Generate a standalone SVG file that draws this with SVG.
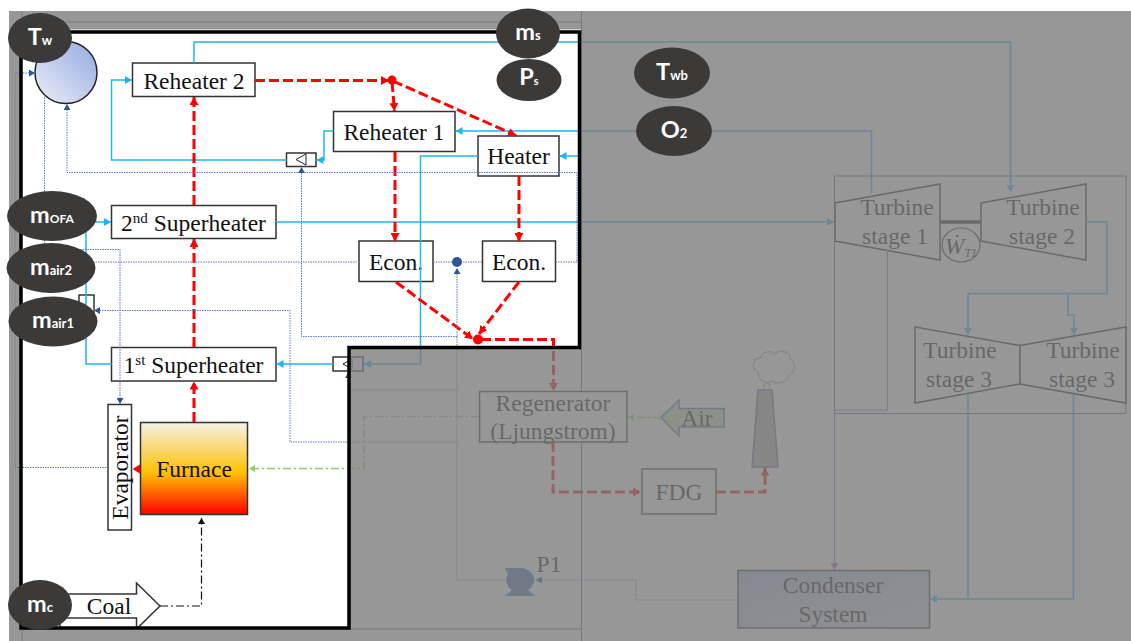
<svg xmlns="http://www.w3.org/2000/svg" width="1131" height="641" viewBox="0 0 1131 641">
<style>
text{font-family:"Liberation Serif","Times New Roman",serif;font-size:23.5px;fill:#111;text-anchor:middle}
.box{fill:#fff;stroke:#333;stroke-width:1.5}
.tb{fill:#fff;stroke:#222;stroke-width:1.5}
.c{fill:none;stroke:#1fb4f2;stroke-width:1.5}
.r{fill:none;stroke:#f00;stroke-width:3;stroke-dasharray:10 4}
.b{fill:none;stroke:#5a7bbf;stroke-width:1;stroke-dasharray:1.5 1}
.g{fill:none;stroke:#8fd06a;stroke-width:1.5;stroke-dasharray:8 3 2 3}
.k{fill:none;stroke:#111;stroke-width:1.2;stroke-dasharray:8 3 2 3}
.p{fill:none;stroke:#a060d8;stroke-width:1.2}
.e{fill:#3b3a39}
.l{font-family:Lato,"Open Sans",sans-serif;font-weight:700;fill:#fff}
.o{fill:none;stroke:#4a6a96;stroke-width:1}
</style>
<defs>
<linearGradient id="gDrum" x1="0" y1="1" x2="1" y2="0"><stop offset="0" stop-color="#eceef6"/><stop offset="1" stop-color="#93aae4"/></linearGradient>
<linearGradient id="gFurn" x1="0" y1="0" x2="0" y2="1"><stop offset="0" stop-color="#f5f2ea"/><stop offset=".55" stop-color="#ffc000"/><stop offset="1" stop-color="#f00"/></linearGradient>
<linearGradient id="gCond" x1="0" y1="0" x2="1" y2="1"><stop offset="0" stop-color="#a9b8e2"/><stop offset="1" stop-color="#d5dcf0"/></linearGradient>
<marker id="mc" markerUnits="userSpaceOnUse" markerWidth="8" markerHeight="8" refX="7" refY="4" orient="auto"><path d="M0 0L7 4L0 8Z" fill="#1fb4f2"/></marker>
<marker id="mr" markerUnits="userSpaceOnUse" markerWidth="9" markerHeight="9" refX="8" refY="4.5" orient="auto"><path d="M0 0L8 4.5L0 9Z" fill="#f00"/></marker>
<marker id="mb" markerUnits="userSpaceOnUse" markerWidth="7" markerHeight="7" refX="6" refY="3.5" orient="auto"><path d="M0 0L6 3.5L0 7Z" fill="#2f5597"/></marker>
<marker id="mg" markerUnits="userSpaceOnUse" markerWidth="7" markerHeight="7" refX="6" refY="3.5" orient="auto"><path d="M0 0L6 3.5L0 7Z" fill="#8fd06a"/></marker>
<marker id="mk" markerUnits="userSpaceOnUse" markerWidth="7" markerHeight="7" refX="6" refY="3.5" orient="auto"><path d="M0 0L6 3.5L0 7Z" fill="#111"/></marker>
<marker id="mp" markerUnits="userSpaceOnUse" markerWidth="8" markerHeight="8" refX="7" refY="4" orient="auto"><path d="M0 0L7 4L0 8Z" fill="#a060d8"/></marker>
</defs>
<rect width="1131" height="641" fill="#fff"/>

<g id="frames">
<path class="o" d="M22 11V29M22 630V641M22 22H581.500M581.500 11V641M350 629H581.500M834.500 176H1126V413.500H834.500Z"/>
</g>

<g id="nodes">
<g id="drum"><circle cx="66" cy="72.500" r="31" fill="url(#gDrum)" stroke="#222" stroke-width="1.500"/></g>
<g id="reheater2"><rect class="box" x="132.500" y="63" width="122.500" height="33.500"/><text x="194" y="89">Reheater 2</text></g>
<g id="reheater1"><rect class="box" x="333.500" y="111.500" width="121.500" height="40"/><text x="394" y="139.500">Reheater 1</text></g>
<g id="heater"><rect class="box" x="478" y="136" width="81" height="40"/><text x="518.500" y="164">Heater</text></g>
<g id="sh2"><rect class="box" x="111.500" y="205.500" width="164.500" height="33"/><text x="193.500" y="231">2<tspan font-size="15" dy="-8">nd</tspan><tspan dy="8"> Superheater</tspan></text></g>
<g id="sh1"><rect class="box" x="111.500" y="347.500" width="164.500" height="33.500"/><text x="193.500" y="372.500">1<tspan font-size="15" dy="-8">st</tspan><tspan dy="8"> Superheater</tspan></text></g>
<g id="econ1"><rect class="box" x="359" y="241" width="74" height="40.500"/><text x="396" y="270">Econ.</text></g>
<g id="econ2"><rect class="box" x="482.500" y="241" width="73" height="40.500"/><text x="519" y="270">Econ.</text></g>
<g id="furnace"><rect x="140.500" y="422.500" width="107" height="92" fill="url(#gFurn)" stroke="#333" stroke-width="1.500"/><text x="194" y="477">Furnace</text></g>
<g id="evaporator"><rect class="box" x="108" y="404.500" width="23.500" height="125.500"/><text transform="translate(128 467.500) rotate(-90)">Evaporator</text></g>
<g id="coal"><path d="M60 594H136.500V583L160 606L137.500 628H60Z" fill="#fff" stroke="#333" stroke-width="1.500"/><path d="M60 618H136.500V628" fill="none" stroke="#333" stroke-width="1.500"/><text x="109" y="614">Coal</text></g>
<g id="valve1"><rect class="box" x="286.500" y="153" width="29.500" height="13.500"/><path d="M296 159.500L306 154V165Z" fill="#fff" stroke="#222"/></g>
<g id="valve2"><rect class="box" x="333" y="357" width="30" height="14"/><path d="M343 364L352 359V369Z" fill="#fff" stroke="#222"/></g>
<g id="valve3"><rect class="box" x="79" y="295" width="15" height="30"/></g>
<g id="regenerator"><rect class="box" x="479.500" y="391.500" width="147.500" height="50.500"/><text x="553" y="411">Regenerator</text><text x="553" y="439">(Ljungstrom)</text></g>
<g id="fdg"><rect class="box" x="642" y="469" width="74" height="45"/><text x="679" y="500">FDG</text></g>
<g id="air"><path d="M661 417.500L679 400V408.500H724V427H679V436Z" fill="#c5e0b4" stroke="#4a6fa5" stroke-width="1.500"/><text x="697" y="426">Air</text></g>
<g id="stack"><path d="M758 390H772L778 467H752Z" fill="#a8a8a8" stroke="#4a6fa5" stroke-width="1.500"/><path d="M764 390V384H770V390M758 372C750 368 753 357 761 358C762 351 772 350 775 354C780 349 791 351 790 359C796 362 796 372 789 375C788 382 777 385 772 381C766 385 757 380 758 372Z" fill="none" stroke="#aaa" stroke-width="1.200"/></g>
<g id="pump"><path d="M505 568H520A14 12 0 0 1 528 590L535 596H505L512 590A13 12 0 0 1 508 574Z" fill="#3f69ac"/><text x="549" y="572" font-size="20">P1</text></g>
<g id="condenser"><rect x="738" y="570.500" width="191.500" height="57.500" fill="url(#gCond)" stroke="#333" stroke-width="1.500"/><text x="833" y="593">Condenser</text><text x="833" y="622">System</text></g>
<g id="turbine1"><path class="tb" d="M835 203L940 184V260L835 241Z"/><text x="897" y="215">Turbine</text><text x="895" y="244">stage 1</text></g>
<g id="turbine2"><path class="tb" d="M981 203L1086 184V260L981 241Z"/><text x="1043" y="215">Turbine</text><text x="1042" y="244">stage 2</text></g>
<g id="turbine3a"><path class="tb" d="M915 327L1020 345.500V384L915 403Z"/><text x="960" y="358">Turbine</text><text x="959" y="387">stage 3</text></g>
<g id="turbine3b"><path class="tb" d="M1020 345.500L1126 327V403L1020 384Z"/><text x="1083" y="358">Turbine</text><text x="1082" y="387">stage 3</text></g>
<g id="work"><path d="M940 222H981" stroke="#222" stroke-width="3.500"/><ellipse cx="961" cy="245" rx="19" ry="17" fill="none" stroke="#222" stroke-width="1.200"/><text x="961" y="254" font-style="italic" font-size="20">Ẇ<tspan font-size="12" dy="3">T1</tspan></text></g>
</g>

<g id="connectors">
<path class="c" d="M194 63V42H1010.500V192" marker-end="url(#mc)"/>
<path class="c" d="M286.500 160H111.500V80H132" marker-end="url(#mc)"/>
<path class="c" d="M333.500 131H324V160H316.500" marker-end="url(#mc)"/>
<path class="c" d="M871.500 193V131H455.500" marker-end="url(#mc)"/>
<path class="c" d="M581.500 131V156H559.500" marker-end="url(#mc)"/>
<path class="c" d="M478 156H420.500V364H364" marker-end="url(#mc)"/>
<path class="c" d="M333 364H276.500" marker-end="url(#mc)"/>
<path class="c" d="M111.500 364H86V222H111" marker-end="url(#mc)"/>
<path class="c" d="M276 222H834" marker-end="url(#mc)"/>
<path class="c" d="M1086 222H1107V293.500H968V335" marker-end="url(#mc)"/>
<path class="c" d="M1068 293.500V315H1074V335" marker-end="url(#mc)"/>
<path class="c" d="M968 394V599" />
<path class="c" d="M1073.500 394V599H930" marker-end="url(#mc)"/>
<path class="p" d="M887.500 250V410H834.500V570" marker-end="url(#mp)"/>

<path class="r" d="M194 422V381.500" marker-end="url(#mr)"/>
<path class="r" d="M194 347V239" marker-end="url(#mr)"/>
<path class="r" d="M194 205V97" marker-end="url(#mr)"/>
<path class="r" d="M255 80.500H389" marker-end="url(#mr)"/>
<path class="r" d="M392 82L394.500 111" marker-end="url(#mr)"/>
<path class="r" d="M393 81L516 135.500" marker-end="url(#mr)"/>
<path class="r" d="M395 152V241" marker-end="url(#mr)"/>
<path class="r" d="M519 176V241" marker-end="url(#mr)"/>
<path class="r" d="M396 282L473 339" marker-end="url(#mr)"/>
<path class="r" d="M519 282L479 334" marker-end="url(#mr)"/>
<path class="r" d="M481 339.500H553.500V391" marker-end="url(#mr)"/>
<path class="r" d="M553 442V492H641" marker-end="url(#mr)"/>
<path class="r" d="M716 492H765V467.500" marker-end="url(#mr)"/>
<circle cx="392" cy="80" r="4.500" fill="#f00"/>
<circle cx="478" cy="339.500" r="5" fill="#f00"/>
<path d="M140 464.500V473.500L132.500 469Z" fill="#f00"/>

<path class="b" d="M15 467.500H108"/>
<path class="b" d="M15 467.500V73H35" marker-end="url(#mb)"/>
<path class="b" d="M44.500 95V249.500H120V404" marker-end="url(#mb)"/>
<path class="b" d="M93 262H359"/>
<path class="b" d="M433 262H482.500"/>
<circle cx="457" cy="262" r="5" fill="#2f5597"/>
<path class="b" d="M555.500 262H577V172.500H67V104" marker-end="url(#mb)"/>
<path class="b" d="M457 336.500H301.500V167" marker-end="url(#mb)"/>
<path class="b" d="M738 600H636V580H536" marker-end="url(#mb)"/>
<path class="b" d="M505 580H457V268" marker-end="url(#mb)"/>
<path class="b" d="M457 442H290V310.500H94" marker-end="url(#mb)"/>
<path class="b" d="M457 390H348.500V372" marker-end="url(#mb)"/>

<path class="g" d="M661 417.500H628" marker-end="url(#mg)"/>
<path class="g" d="M479 416.500H364V468.500H249" marker-end="url(#mg)"/>
<path class="k" d="M160 606H201.500V518" marker-end="url(#mk)"/>
</g>

<path id="overlay" fill="#7d7d7d" fill-opacity=".8" fill-rule="evenodd" d="M9 11H1131V641H9ZM20 29.500V628H348V349H581V29.500Z"/>
<path id="focus" fill="none" stroke="#000" stroke-width="3.500" stroke-linejoin="miter" d="M21 32H579.500V347.500H349V628H21Z"/>

<g id="measurements">
<g id="m-tw"><ellipse class="e" cx="40" cy="38" rx="32" ry="25"/><text class="l" x="40" y="45" font-size="19">T<tspan font-size="13">w</tspan></text></g>
<g id="m-ms"><ellipse class="e" cx="528" cy="33.500" rx="32" ry="25"/><text class="l" x="528" y="40" font-size="20">m<tspan font-size="13">s</tspan></text></g>
<g id="m-ps"><ellipse class="e" cx="529" cy="80" rx="32.500" ry="21"/><text class="l" x="529" y="85" font-size="14">P<tspan font-size="11">s</tspan></text></g>
<g id="m-twb"><ellipse class="e" cx="672" cy="73" rx="38" ry="25.500"/><text class="l" x="672" y="80" font-size="19">T<tspan font-size="13">wb</tspan></text></g>
<g id="m-o2"><ellipse class="e" cx="674" cy="131" rx="38" ry="25"/><text class="l" x="674" y="138" font-size="19">O<tspan font-size="13">2</tspan></text></g>
<g id="m-ofa"><ellipse class="e" cx="52" cy="216" rx="45" ry="25"/><text class="l" x="52" y="223" font-size="20">m<tspan font-size="12">OFA</tspan></text></g>
<g id="m-air2"><ellipse class="e" cx="51" cy="268" rx="44.500" ry="25"/><text class="l" x="51" y="275" font-size="20">m<tspan font-size="13">air2</tspan></text></g>
<g id="m-air1"><ellipse class="e" cx="53" cy="321.500" rx="44.500" ry="25"/><text class="l" x="53" y="328" font-size="20">m<tspan font-size="13">air1</tspan></text></g>
<g id="m-c"><ellipse class="e" cx="40" cy="605" rx="32" ry="25"/><text class="l" x="40" y="612" font-size="20">m<tspan font-size="13">c</tspan></text></g>
</g>
</svg>
